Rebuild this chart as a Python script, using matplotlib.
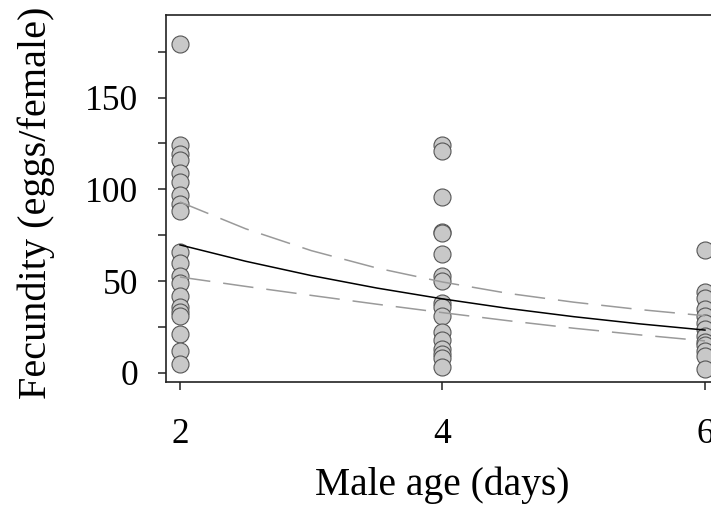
import matplotlib
matplotlib.use("Agg")
import matplotlib.pyplot as plt
import numpy as np

plt.rcParams['font.family'] = ['Liberation Serif', 'DejaVu Serif']

# Observed fecundity per male age group
ages = [2, 4, 6]
fec_age2 = [179, 124, 119, 116, 109, 104, 97, 92, 88, 66, 60, 53, 49, 42, 36, 33, 31, 21, 12, 5]
fec_age4 = [124, 121, 96, 77, 76, 65, 53, 50, 38, 36, 31, 22, 18, 13, 10, 8, 3]
fec_age6 = [67, 44, 41, 35, 31, 27, 24, 20, 17, 15, 12, 9, 2]

# Fitted curve and confidence band
fit_x = [2, 2.5, 3, 3.5, 4, 4.5, 5, 5.5, 6]
fit_y = [69.7, 60.8, 53.0, 46.2, 40.3, 35.1, 30.6, 26.7, 23.3]
ci_upper = [93.1, 78.5, 66.6, 57.1, 49.5, 43.3, 38.5, 34.5, 31.1]
ci_lower = [52.2, 47.1, 42.2, 37.4, 32.8, 28.4, 24.3, 20.7, 17.4]

yticks = [0, 50, 100, 150]
yminor = [25, 75, 125, 175]
xticks = [2, 4, 6]

fig = plt.figure(figsize=(7.11, 5.07), dpi=100)
ax = fig.add_axes([166/711, 125/507, 553/711, 367/507])

groups = [fec_age2, fec_age4, fec_age6]
for a, vals in zip(ages, groups):
    ax.scatter([a]*len(vals), vals, s=150, facecolor='#c8c8c8',
               edgecolor='#555555', linewidth=0.8, zorder=3)

ax.plot(fit_x, fit_y, color='black', lw=1.1, zorder=4)
ax.plot(fit_x, ci_upper, color='#9a9a9a', lw=1.1, dashes=(20, 8.5), zorder=4)
ax.plot(fit_x, ci_lower, color='#9a9a9a', lw=1.1, dashes=(20, 8.5), zorder=4)

ax.set_xlim(1.893, 6.107)
ax.set_ylim(-5, 195)
ax.set_xticks(xticks)
ax.set_xticklabels([str(t) for t in xticks])
ax.set_yticks(yticks)
ax.set_yticks(yminor, minor=True)
ax.set_yticklabels([str(t) for t in yticks])

for s in ['left', 'top', 'bottom', 'right']:
    ax.spines[s].set_linewidth(1.2)
    ax.spines[s].set_color('#222222')

ax.tick_params(axis='both', which='both', direction='out', length=6, width=1.1,
               color='#222222', labelsize=25.5)
ax.tick_params(axis='y', which='major', pad=14)
ax.tick_params(axis='x', which='major', pad=20)

ax.set_xlabel('Male age (days)', fontsize=28.5, labelpad=11)
ax.set_ylabel('Fecundity (eggs/female)', fontsize=29, labelpad=19)
ax.yaxis.set_label_coords(-0.2, 0.489)

fig.savefig('out.png', dpi=100, facecolor='white')
